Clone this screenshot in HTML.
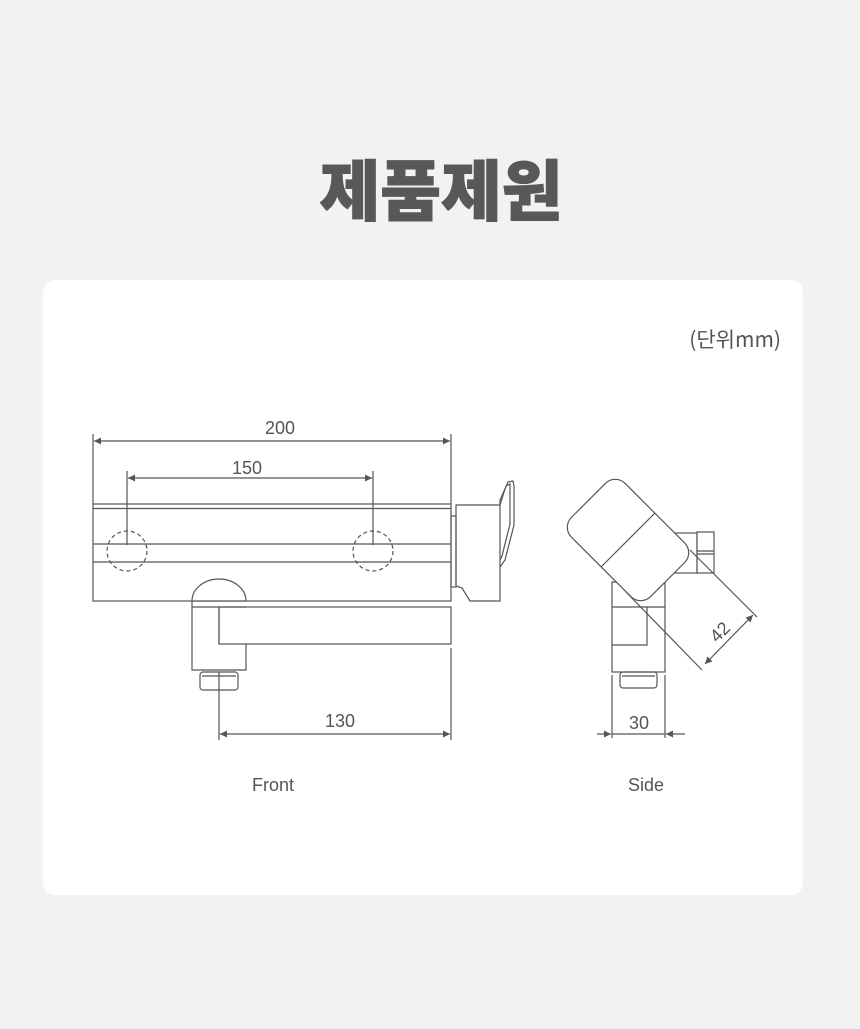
<!DOCTYPE html>
<html><head><meta charset="utf-8"><style>
html,body{margin:0;padding:0;background:#f2f2f2;width:860px;height:1029px;overflow:hidden}
svg{display:block}
</style></head><body>
<svg width="860" height="1029" viewBox="0 0 860 1029" xmlns="http://www.w3.org/2000/svg" font-family="Liberation Sans, 'Noto Sans CJK KR', sans-serif">
<defs>
<marker id="a" viewBox="0 0 10 10" refX="10" refY="5" markerWidth="14" markerHeight="7" markerUnits="userSpaceOnUse" orient="auto-start-reverse"><path d="M0,0 L10,5 L0,10 Z" fill="#555"/></marker>
</defs>
<rect x="0" y="0" width="860" height="1029" fill="#f2f2f2"/>
<text x="441" y="215" text-anchor="middle" font-size="66" font-weight="900" fill="#58585a" stroke="#58585a" stroke-width="1" font-family="'Noto Sans CJK KR', sans-serif">제품제원</text>
<rect x="43" y="280" width="760" height="615" rx="12" fill="#fff"/>
<text x="781" y="347" text-anchor="end" font-size="21" fill="#555" font-family="'Noto Sans CJK KR', sans-serif">(단위mm)</text>

<g stroke="#555" stroke-width="1.2" fill="none">
<line x1="93" y1="434" x2="93" y2="504"/>
<line x1="451" y1="434" x2="451" y2="504"/>
<line x1="94" y1="441" x2="450" y2="441" marker-start="url(#a)" marker-end="url(#a)"/>
<line x1="127" y1="471" x2="127" y2="545"/>
<line x1="373" y1="471" x2="373" y2="545"/>
<line x1="128" y1="478" x2="372" y2="478" marker-start="url(#a)" marker-end="url(#a)"/>
<rect x="93" y="504" width="358" height="97"/>
<line x1="93" y1="508.5" x2="451" y2="508.5"/>
<line x1="93" y1="544" x2="451" y2="544"/>
<line x1="93" y1="562" x2="451" y2="562"/>
<circle cx="127" cy="551" r="20" stroke-dasharray="4,3"/>
<circle cx="373" cy="551" r="20" stroke-dasharray="4,3"/>
<rect x="451" y="516" width="5" height="71"/>
<path d="M456,505 L500,505 L500,601 L470,601 L462,588 L456,586 Z"/>
<path d="M500,505 L500,500 L508,482 L513,481 L514,486 L514,525 L505,560 L500,567"/>
<path d="M500,505 L506,486 L510,484 L510,524 L502,556 L500,560"/>
<path d="M192,601 A27,22 0 0 1 246,601 Z" fill="#fff"/>
<line x1="192" y1="607" x2="246" y2="607"/>
<rect x="219" y="607" width="232" height="37"/>
<path d="M192,601 L192,670 L246,670 L246,644"/>
<line x1="219" y1="607" x2="219" y2="644"/>
<rect x="200" y="672" width="38" height="18" rx="3"/>
<line x1="202" y1="676" x2="236" y2="676"/>
<line x1="219" y1="672" x2="219" y2="740"/>
<line x1="451" y1="648" x2="451" y2="740"/>
<line x1="220" y1="734" x2="450" y2="734" marker-start="url(#a)" marker-end="url(#a)"/>

<rect x="612" y="582" width="53" height="90" fill="#fff"/>
<line x1="612" y1="607" x2="665" y2="607"/>
<path d="M612,645 L647,645 L647,607"/>
<rect x="620" y="672" width="37" height="16" rx="3"/>
<line x1="622" y1="676" x2="655" y2="676"/>
<rect x="675" y="533" width="22" height="40" fill="#fff"/>
<rect x="697" y="532" width="17" height="41" fill="#fff"/>
<line x1="697" y1="551" x2="714" y2="551"/>
<line x1="697" y1="554" x2="714" y2="554"/>
<g transform="rotate(45 628 540)">
<rect x="572" y="502" width="112" height="76" rx="14" fill="#fff"/>
<line x1="628" y1="502" x2="628" y2="578"/>
</g>
<line x1="626" y1="592" x2="702" y2="670"/>
<line x1="690" y1="550" x2="757" y2="617"/>
<line x1="705" y1="664" x2="753" y2="615" marker-start="url(#a)" marker-end="url(#a)"/>
<line x1="612" y1="675" x2="612" y2="738"/>
<line x1="665" y1="675" x2="665" y2="738"/>
<line x1="597" y1="734" x2="611" y2="734" marker-end="url(#a)"/>
<line x1="685" y1="734" x2="666" y2="734" marker-end="url(#a)"/>
<line x1="612" y1="734" x2="665" y2="734"/>
</g>
<g fill="#555" font-size="18">
<text x="280" y="434" text-anchor="middle">200</text>
<text x="247" y="474" text-anchor="middle">150</text>
<text x="340" y="727" text-anchor="middle">130</text>
<text x="639" y="729" text-anchor="middle">30</text>
<text x="720" y="638" text-anchor="middle" transform="rotate(-45 720 632)">42</text>
<text x="273" y="791" text-anchor="middle">Front</text>
<text x="646" y="791" text-anchor="middle">Side</text>
</g>
</svg>
</body></html>
